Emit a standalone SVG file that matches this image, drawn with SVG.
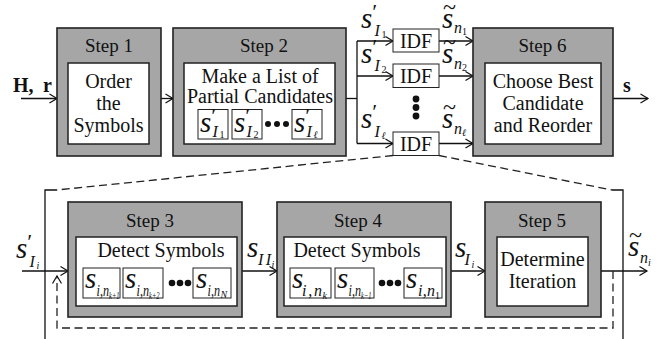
<svg xmlns="http://www.w3.org/2000/svg" width="669" height="339" viewBox="0 0 669 339" font-family="Liberation Serif, Tinos, DejaVu Serif, serif">
<defs>
<marker id="ah" markerUnits="userSpaceOnUse" markerWidth="10" markerHeight="12" refX="7.5" refY="4.5" orient="auto" overflow="visible">
<path d="M0,0 L7.5,4.5 L0,9" fill="none" stroke="#111" stroke-width="1.2"/>
</marker>
<style>
text{font-family:'Liberation Serif','Tinos','DejaVu Serif',serif}
.outer{fill:#a6a6a6;stroke:#222;stroke-width:1.6}
.inner{fill:#fff;stroke:#222;stroke-width:1.5}
.sm{fill:#fff;stroke:#222;stroke-width:1}
.t{font-size:20px;fill:#111;text-anchor:middle}
.ti{font-size:19px;fill:#111;text-anchor:middle}
.m{font-style:italic;fill:#111}
.b{font-weight:bold;font-size:20px;fill:#111}
.ln{fill:none;stroke:#111;stroke-width:1.3}
.arr{fill:none;stroke:#111;stroke-width:1.3;marker-end:url(#ah)}
.dash{fill:none;stroke:#222;stroke-width:1.3;stroke-dasharray:8 4.5}
.dot{fill:#111}
</style>
</defs>

<g id="connectors">
<line class="arr" x1="21" y1="98.5" x2="57" y2="98.5"/>
<line class="arr" x1="161" y1="98.5" x2="173" y2="98.5"/>
<polyline class="ln" points="346,98.5 357,98.5"/>
<line class="ln" x1="357" y1="41" x2="357" y2="143.5"/>
<line class="arr" x1="357" y1="41" x2="393" y2="41"/>
<line class="arr" x1="357" y1="76" x2="393" y2="76"/>
<line class="arr" x1="357" y1="143.5" x2="393" y2="143.5"/>
<line class="arr" x1="439" y1="41" x2="473" y2="41"/>
<line class="arr" x1="439" y1="76" x2="473" y2="76"/>
<line class="arr" x1="439" y1="143.5" x2="473" y2="143.5"/>
<line class="arr" x1="613" y1="98.5" x2="648" y2="98.5"/>
<line class="dash" x1="393" y1="155.5" x2="57" y2="190"/>
<line class="dash" x1="439" y1="155.5" x2="612" y2="190"/>
<polyline class="ln" points="57,190 45,190 45,339"/>
<polyline class="ln" points="612,190 623,190 623,339"/>
<line class="arr" x1="22" y1="271" x2="68" y2="271"/>
<line class="arr" x1="242" y1="271" x2="277" y2="271"/>
<line class="arr" x1="451" y1="271" x2="485" y2="271"/>
<line class="arr" x1="601" y1="271" x2="647" y2="271"/>
<path class="dash" d="M613,271 V328 H57 V276" marker-end="url(#ah)"/>
</g>

<g id="input-label">
<text class="b" x="13" y="92">H,<tspan x="43">r</tspan></text>
</g>

<g id="step1">
<rect class="outer" x="57" y="28" width="104" height="128"/>
<rect class="inner" x="68" y="63" width="81" height="81"/>
<text class="ti" x="109" y="52">Step 1</text>
<text class="t" x="108.5" y="88">Order</text>
<text class="t" x="108.5" y="110">the</text>
<text class="t" x="108.5" y="132">Symbols</text>
</g>

<g id="step2">
<rect class="outer" x="173" y="28" width="173" height="128"/>
<rect class="inner" x="184" y="63" width="151" height="81"/>
<text class="ti" x="264" y="52">Step 2</text>
<text class="t" x="260" y="83">Make a List of</text>
<text class="t" x="260" y="103">Partial Candidates</text>
<rect class="sm" x="198" y="109.5" width="30" height="29.5"/>
<rect class="sm" x="232" y="109.5" width="30" height="29.5"/>
<rect class="sm" x="292" y="109.5" width="30" height="29.5"/>
<text class="m"><tspan x="200" y="132" font-size="29">s</tspan><tspan x="210" y="123" font-size="22">′</tspan><tspan x="212.5" y="136.5" font-size="16">I</tspan><tspan x="219.5" y="138" font-size="10" font-style="normal">1</tspan></text>
<text class="m"><tspan x="234" y="132" font-size="29">s</tspan><tspan x="244" y="123" font-size="22">′</tspan><tspan x="246.5" y="136.5" font-size="16">I</tspan><tspan x="253.5" y="138" font-size="10" font-style="normal">2</tspan></text>
<text class="m"><tspan x="294" y="132" font-size="29">s</tspan><tspan x="304" y="123" font-size="22">′</tspan><tspan x="306.5" y="136.5" font-size="16">I</tspan><tspan x="313.5" y="138" font-size="10">ℓ</tspan></text>
<circle class="dot" cx="268" cy="124" r="3"/>
<circle class="dot" cx="277" cy="124" r="3"/>
<circle class="dot" cx="286" cy="124" r="3"/>
</g>

<g id="idf1">
<rect class="sm" x="393" y="29" width="46" height="23"/>
<text class="t" x="416" y="47.5">IDF</text>
</g>
<g id="idf2">
<rect class="sm" x="393" y="64" width="46" height="23.5"/>
<text class="t" x="416" y="82.5">IDF</text>
</g>
<g id="idf3">
<rect class="sm" x="393" y="132" width="46" height="23.5"/>
<text class="t" x="416" y="150.5">IDF</text>
</g>
<g id="idf-dots">
<circle class="dot" cx="416" cy="99" r="3.4"/>
<circle class="dot" cx="416" cy="107.5" r="3.4"/>
<circle class="dot" cx="416" cy="116" r="3.4"/>
</g>

<g id="branch-labels">
<text class="m"><tspan x="361" y="28" font-size="29">s</tspan><tspan x="371" y="19" font-size="22">′</tspan><tspan x="374.5" y="36" font-size="16">I</tspan><tspan x="381.5" y="38" font-size="10" font-style="normal">1</tspan></text>
<text class="m"><tspan x="361" y="63" font-size="29">s</tspan><tspan x="371" y="54" font-size="22">′</tspan><tspan x="374.5" y="71" font-size="16">I</tspan><tspan x="381.5" y="73" font-size="10" font-style="normal">2</tspan></text>
<text class="m"><tspan x="361" y="128" font-size="29">s</tspan><tspan x="371" y="119" font-size="22">′</tspan><tspan x="374.5" y="137" font-size="16">I</tspan><tspan x="381.5" y="139" font-size="10">ℓ</tspan></text>
<text class="m"><tspan x="443" y="15" font-size="24" font-style="normal">~</tspan><tspan x="442" y="28" font-size="29">s</tspan><tspan x="454" y="33" font-size="16">n</tspan><tspan x="462" y="35" font-size="10" font-style="normal">1</tspan></text>
<text class="m"><tspan x="443" y="50" font-size="24" font-style="normal">~</tspan><tspan x="442" y="63" font-size="29">s</tspan><tspan x="454" y="69" font-size="16">n</tspan><tspan x="462" y="71" font-size="10" font-style="normal">2</tspan></text>
<text class="m"><tspan x="443" y="115" font-size="24" font-style="normal">~</tspan><tspan x="442" y="128" font-size="29">s</tspan><tspan x="454" y="134" font-size="16">n</tspan><tspan x="462" y="136" font-size="10">ℓ</tspan></text>
</g>

<g id="step6">
<rect class="outer" x="473" y="28" width="140" height="128"/>
<rect class="inner" x="485" y="63" width="116" height="81"/>
<text class="ti" x="542.5" y="52">Step 6</text>
<text class="t" x="543" y="88">Choose Best</text>
<text class="t" x="543" y="110">Candidate</text>
<text class="t" x="543" y="132">and Reorder</text>
</g>

<g id="output-label">
<text class="b" x="623" y="92">s</text>
</g>

<g id="input-si">
<text class="m"><tspan x="16" y="258" font-size="29">s</tspan><tspan x="26" y="249" font-size="22">′</tspan><tspan x="29.5" y="267" font-size="16">I</tspan><tspan x="36.5" y="269" font-size="10">i</tspan></text>
</g>

<g id="step3">
<rect class="outer" x="68" y="202" width="174" height="115"/>
<rect class="inner" x="76" y="237" width="161" height="69"/>
<text class="ti" x="150" y="227">Step 3</text>
<text class="t" x="161" y="257">Detect Symbols</text>
<rect class="sm" x="83" y="268" width="37" height="30"/>
<rect class="sm" x="123" y="268" width="40" height="30"/>
<rect class="sm" x="193" y="268" width="38" height="30"/>
<text class="m"><tspan x="85" y="288" font-size="29">s</tspan><tspan x="96.5" y="296" font-size="16" textLength="12.5" lengthAdjust="spacingAndGlyphs">i,n</tspan><tspan x="109" y="298.5" font-size="10" textLength="10.5" lengthAdjust="spacingAndGlyphs">k+1</tspan></text>
<text class="m"><tspan x="125" y="288" font-size="29">s</tspan><tspan x="136.5" y="296" font-size="16" textLength="12.5" lengthAdjust="spacingAndGlyphs">i,n</tspan><tspan x="149" y="298.5" font-size="10" textLength="10.5" lengthAdjust="spacingAndGlyphs">k+2</tspan></text>
<text class="m"><tspan x="196" y="288" font-size="29">s</tspan><tspan x="207.5" y="296" font-size="16" textLength="12.5" lengthAdjust="spacingAndGlyphs">i,n</tspan><tspan x="220.5" y="298" font-size="10">N</tspan></text>
<circle class="dot" cx="172" cy="283" r="3.3"/>
<circle class="dot" cx="180" cy="283" r="3.3"/>
<circle class="dot" cx="188" cy="283" r="3.3"/>
</g>

<g id="label-sii">
<text class="m"><tspan x="247" y="257" font-size="29">s</tspan><tspan x="258" y="265" font-size="16" textLength="13" lengthAdjust="spacing">II</tspan><tspan x="271.5" y="268" font-size="10">i</tspan></text>
</g>

<g id="step4">
<rect class="outer" x="277" y="202" width="174" height="115"/>
<rect class="inner" x="284" y="237" width="162" height="69"/>
<text class="ti" x="358" y="227">Step 4</text>
<text class="t" x="357" y="257">Detect Symbols</text>
<rect class="sm" x="290" y="268" width="41" height="30"/>
<rect class="sm" x="335" y="268" width="39" height="30"/>
<rect class="sm" x="404" y="268" width="38" height="30"/>
<text class="m"><tspan x="292" y="288" font-size="29">s</tspan><tspan x="302" y="296" font-size="16" textLength="20" lengthAdjust="spacing">i,n</tspan><tspan x="322.5" y="298.5" font-size="10">k</tspan></text>
<text class="m"><tspan x="337" y="288" font-size="29">s</tspan><tspan x="348.5" y="296" font-size="16" textLength="12.5" lengthAdjust="spacingAndGlyphs">i,n</tspan><tspan x="361" y="298.5" font-size="10" textLength="10.5" lengthAdjust="spacingAndGlyphs">k−1</tspan></text>
<text class="m"><tspan x="406" y="288" font-size="29">s</tspan><tspan x="418" y="296" font-size="16" textLength="17" lengthAdjust="spacing">i,n</tspan><tspan x="435" y="298.5" font-size="10" font-style="normal">1</tspan></text>
<circle class="dot" cx="382" cy="283" r="3.3"/>
<circle class="dot" cx="390" cy="283" r="3.3"/>
<circle class="dot" cx="398" cy="283" r="3.3"/>
</g>

<g id="label-si">
<text class="m"><tspan x="455" y="257" font-size="29">s</tspan><tspan x="464.5" y="265" font-size="16">I</tspan><tspan x="471.5" y="268" font-size="10">i</tspan></text>
</g>

<g id="step5">
<rect class="outer" x="485" y="202" width="116" height="115"/>
<rect class="inner" x="497" y="237" width="91" height="69"/>
<text class="ti" x="542" y="227">Step 5</text>
<text class="t" x="542.5" y="266">Determine</text>
<text class="t" x="542.5" y="288">Iteration</text>
</g>

<g id="label-sni">
<text class="m"><tspan x="629" y="243" font-size="24" font-style="normal">~</tspan><tspan x="628" y="256" font-size="29">s</tspan><tspan x="640" y="263" font-size="16">n</tspan><tspan x="648" y="266" font-size="10">i</tspan></text>
</g>
</svg>
